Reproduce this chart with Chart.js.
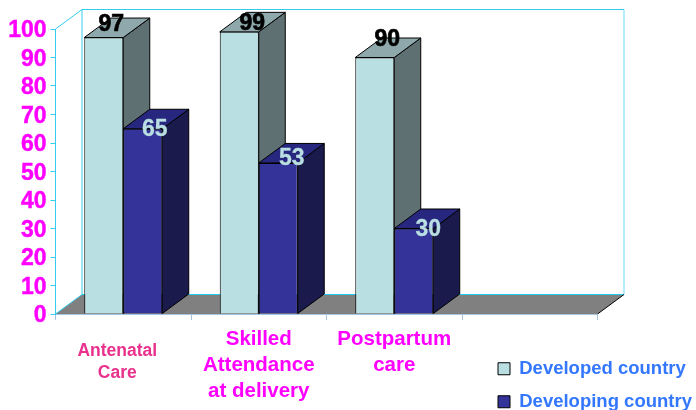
<!DOCTYPE html>
<html>
<head>
<meta charset="utf-8">
<style>
  html, body { margin: 0; padding: 0; background: #fff; overflow: hidden; }
  canvas { display: block; }
</style>
<script src="https://cdn.jsdelivr.net/npm/chart.js@4/dist/chart.umd.min.js"></script>
</head>
<body>
<canvas id="chart" width="696" height="410"></canvas>
<script>
const categories = [["Antenatal", "Care"], ["Skilled", "Attendance", "at delivery"], ["Postpartum", "care"], ""];
const developed = [97, 99, 90, null];
const developing = [65, 53, 30, null];
const seriesNames = ["Developed country", "Developing country"];
const yTicks = [0, 10, 20, 30, 40, 50, 60, 70, 80, 90, 100];

// depth of the fake 3d box
const DX = 26.5;
const DY = -19.5;
const FONT = "'Liberation Sans', Arial, sans-serif";
const CYAN = "#33ccee";

const sideColors = ["#5f7073", "#1a1a4d"];
const topColors = ["#8fa8ab", "#27277f"];
const labelColors = ["#000000", "#b9dfe3"];
// value labels sit at different spots on each bar, offset from the top centre of the bar
const labelOffsets = [
  [[7.5, -13], [13, -8], [12.5, -17.5]],
  [[12, 1], [13.5, -4], [14.5, 1]]
];

function poly(ctx, pts, fill, stroke) {
  ctx.beginPath();
  pts.forEach((p, i) => (i ? ctx.lineTo(p[0], p[1]) : ctx.moveTo(p[0], p[1])));
  ctx.closePath();
  if (fill) {
    ctx.fillStyle = fill;
    ctx.fill();
  }
  if (stroke) {
    ctx.strokeStyle = stroke;
    ctx.lineWidth = 1;
    ctx.stroke();
  }
}

function line(ctx, x1, y1, x2, y2, color, width) {
  ctx.beginPath();
  ctx.moveTo(x1, y1);
  ctx.lineTo(x2, y2);
  ctx.strokeStyle = color;
  ctx.lineWidth = width;
  ctx.stroke();
}

const box3d = {
  id: "box3d",
  afterLayout(chart) {
    // park the legend in the lower right corner
    const l = chart.legend;
    l.left = 483.5;
    l.right = 696;
    l.top = 345;
    l.bottom = 430;

    // y labels sit a little lower than canvas middle baseline puts them
    const y = chart.scales.y;
    if (!y.shifted) {
      const drawLabels = y.drawLabels.bind(y);
      y.drawLabels = (area) => {
        chart.ctx.save();
        chart.ctx.translate(0, 2);
        drawLabels(area);
        chart.ctx.restore();
      };
      y.shifted = true;
    }
  },
  beforeDraw(chart) {
    const ctx = chart.ctx;
    const a = chart.chartArea;
    poly(ctx, [[a.left, a.bottom], [a.left + DX, a.bottom + DY], [a.right + DX, a.bottom + DY], [a.right, a.bottom]], "#808080");
    line(ctx, a.left, a.top, a.left + DX, a.top + DY, CYAN, 1);
    line(ctx, a.left + DX, a.top + DY, a.left + DX, a.bottom + DY, CYAN, 1);
    line(ctx, a.left + DX, a.top + DY, a.right + DX, a.top + DY, CYAN, 1);
    line(ctx, a.right + DX, a.top + DY, a.right + DX, a.bottom + DY, "#66ddff", 1);
    line(ctx, a.left + DX, a.bottom + DY, a.right + DX, a.bottom + DY, "#22ccee", 1);
    line(ctx, a.left, a.bottom, a.left + DX, a.bottom + DY, CYAN, 1);
    line(ctx, a.right, a.bottom, a.right + DX, a.bottom + DY, "#000000", 1);
  },
  beforeDatasetsDraw(chart) {
    // sides and tops first, the library paints the fronts over them
    const ctx = chart.ctx;
    chart.data.datasets.forEach((ds, d) => {
      chart.getDatasetMeta(d).data.forEach((bar, i) => {
        if (ds.data[i] == null) return;
        const p = bar.getProps(["x", "y", "base", "width"], true);
        const l = p.x - p.width / 2;
        const r = p.x + p.width / 2;
        poly(ctx, [[r, p.y], [r + DX, p.y + DY], [r + DX, p.base + DY], [r, p.base]], sideColors[d], "#000000");
        poly(ctx, [[l, p.y], [l + DX, p.y + DY], [r + DX, p.y + DY], [r, p.y]], topColors[d], "#000000");
      });
    });
  },
  afterDatasetsDraw(chart) {
    const ctx = chart.ctx;
    ctx.save();
    ctx.textAlign = "center";
    ctx.textBaseline = "middle";
    ctx.font = "bold 23px " + FONT;
    chart.data.datasets.forEach((ds, d) => {
      chart.getDatasetMeta(d).data.forEach((bar, i) => {
        if (ds.data[i] == null) return;
        const off = labelOffsets[d][i];
        ctx.fillStyle = labelColors[d];
        ctx.strokeStyle = labelColors[d];
        ctx.lineWidth = d === 0 ? 0.7 : 0.3;
        ctx.strokeText(ds.data[i], bar.x + off[0], bar.y + off[1]);
        ctx.fillText(ds.data[i], bar.x + off[0], bar.y + off[1]);
      });
    });
    ctx.restore();
  },
  afterDraw(chart) {
    // category names: the first one is styled and placed differently in the original
    const ctx = chart.ctx;
    const xs = chart.scales.x;
    ctx.save();
    ctx.textAlign = "center";
    ctx.textBaseline = "middle";
    categories.forEach((lines, i) => {
      if (!lines) return;
      const first = i === 0;
      ctx.font = "bold " + (first ? 17.5 : 20.5) + "px " + FONT;
      ctx.fillStyle = first ? "#e8308c" : "#ff00ff";
      lines.forEach((t, n) => {
        const x = xs.getPixelForTick(i) - (first ? 6 : 0);
        const y = first ? 351 + n * 22 : 339 + n * 26;
        ctx.fillText(t, x, y);
      });
    });
    ctx.restore();
  }
};

new Chart(document.getElementById("chart"), {
  type: "bar",
  data: {
    labels: categories,
    datasets: [
      {
        label: seriesNames[0],
        data: developed,
        backgroundColor: "#b9dfe3",
        borderColor: "#000000",
        borderWidth: 1
      },
      {
        label: seriesNames[1],
        data: developing,
        backgroundColor: "#333399",
        borderColor: "#000000",
        borderWidth: 1
      }
    ]
  },
  options: {
    responsive: false,
    animation: false,
    layout: { padding: { top: 29, right: 98.5, left: 0, bottom: 0 } },
    categoryPercentage: 0.5756,
    barPercentage: 1,
    scales: {
      x: {
        afterFit(scale) { scale.height = 96; },
        grid: { drawOnChartArea: false, drawTicks: true, tickLength: 6, tickColor: "#a3c4e0" },
        border: { color: "#a3c4e0" },
        ticks: { display: false }
      },
      y: {
        min: 0,
        max: 100,
        afterFit(scale) { scale.width = 55.5; },
        afterBuildTicks(scale) { scale.ticks = yTicks.map((v) => ({ value: v })); },
        grid: { drawOnChartArea: false, drawTicks: true, tickLength: 5, tickColor: CYAN },
        border: { color: CYAN },
        ticks: {
          color: "#ff00ff",
          padding: 4,
          autoSkip: false,
          textStrokeColor: "#ff00ff",
          textStrokeWidth: 0.4,
          font: { family: FONT, size: 23, weight: "bold" }
        }
      }
    },
    plugins: {
      tooltip: { enabled: false },
      legend: {
        position: "chartArea",
        align: "start",
        labels: {
          boxWidth: 12,
          boxHeight: 12,
          padding: 14.5,
          color: "#3377ff",
          font: { family: FONT, size: 18.5, weight: "bold" }
        }
      }
    }
  },
  plugins: [box3d]
});
</script>
</body>
</html>
